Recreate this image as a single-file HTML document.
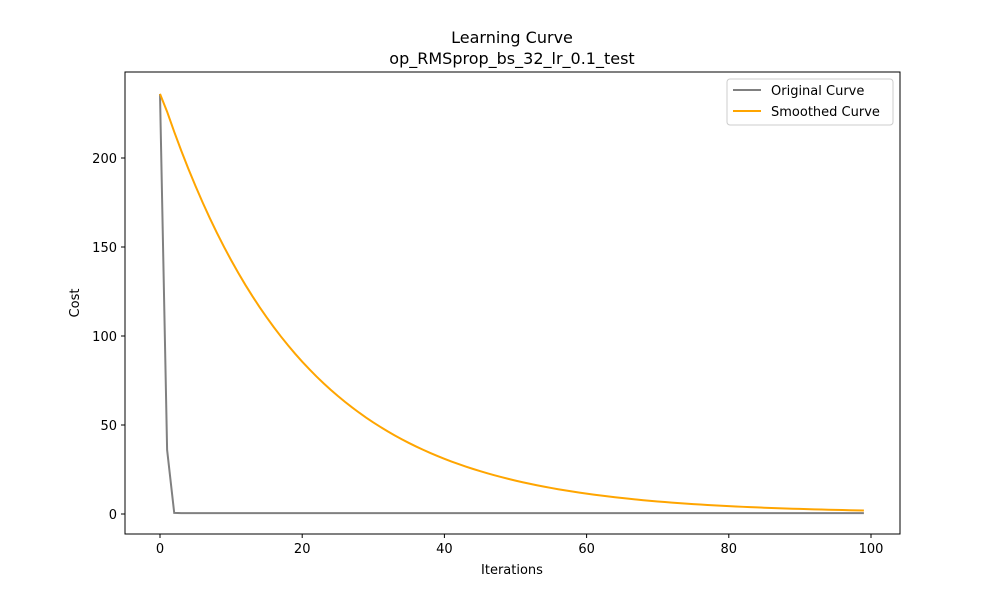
<!DOCTYPE html>
<html><head><meta charset="utf-8"><style>
body{margin:0;background:#fff;font-family:"Liberation Sans","DejaVu Sans",sans-serif}
svg text{font-family:"DejaVu Sans","Liberation Sans",sans-serif;fill:#000}
</style></head><body>
<svg id="chart" width="1000" height="600">
<rect width="1000" height="600" fill="#fff"/>
<text x="512" y="43" font-size="16" text-anchor="middle">Learning Curve</text>
<text x="512" y="64" font-size="16" text-anchor="middle">op_RMSprop_bs_32_lr_0.1_test</text>
<g id="ticks"></g>
<g id="series"></g>
<rect x="125" y="72" width="775" height="462" fill="none" stroke="#000" stroke-width="1"/>
<text x="512" y="574" font-size="13" text-anchor="middle">Iterations</text>
<text x="79" y="303" font-size="13" text-anchor="middle" transform="rotate(-90 79 303)">Cost</text>
<g>
<rect x="727" y="79" width="166" height="46" rx="3" fill="#fff" stroke="#ccc"/>
<line x1="733" y1="90" x2="761" y2="90" stroke="#808080" stroke-width="2"/>
<text x="771" y="95" font-size="13">Original Curve</text>
<line x1="733" y1="111" x2="761" y2="111" stroke="#ffa500" stroke-width="2"/>
<text x="771" y="116" font-size="13">Smoothed Curve</text>
</g>
</svg>
<script>
const xTicks=[0,20,40,60,80,100];
const yTicks=[0,50,100,150,200];
const originalHead=[236,36,0.6];
const originalTailValue=0.5;
const nPoints=100;
const smoothingFactor=0.95;
const original=originalHead.slice();
while(original.length<nPoints) original.push(originalTailValue);
const smoothed=[];
original.forEach((v,i)=>smoothed.push(i===0?v:smoothed[i-1]*smoothingFactor+v*(1-smoothingFactor)));
const X=v=>160+v*7.11, Y=v=>514-v*1.78;
const NS="http://www.w3.org/2000/svg";
const tg=document.getElementById('ticks'), sg=document.getElementById('series');
function mk(tag,attrs,parent){const e=document.createElementNS(NS,tag);for(const k in attrs)e.setAttribute(k,attrs[k]);parent.appendChild(e);return e;}
xTicks.forEach(t=>{
 const l=mk('line',{x1:X(t),x2:X(t),y1:534,y2:538,stroke:'#000'},tg);
 
 
 const tx=mk('text',{x:X(t),y:553,'font-size':13,'text-anchor':'middle'},tg);tx.textContent=t;
 
 
});
yTicks.forEach(t=>{
 const l=mk('line',{x1:121,x2:125,y1:Y(t),y2:Y(t),stroke:'#000'},tg);
 
 
 const tx=mk('text',{x:117,y:Y(t)+5,'font-size':13,'text-anchor':'end'},tg);tx.textContent=t;
 
 
});
const p1=mk('polyline',{points:original.map((v,i)=>X(i)+','+Y(v)).join(' '),fill:'none',stroke:'#808080','stroke-width':2},sg);


const p2=mk('polyline',{points:smoothed.map((v,i)=>X(i)+','+Y(v)).join(' '),fill:'none',stroke:'#ffa500','stroke-width':2},sg);


</script>
</body></html>
